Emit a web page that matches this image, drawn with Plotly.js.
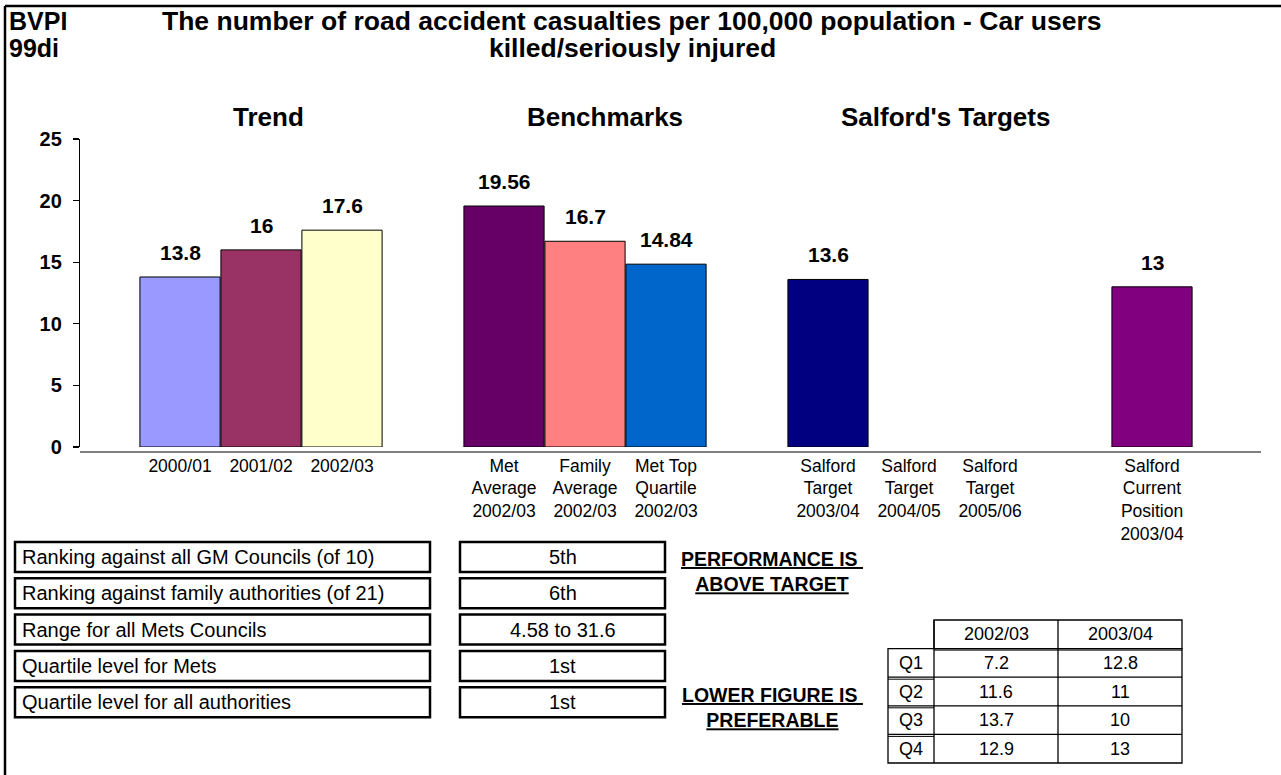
<!DOCTYPE html>
<html><head><meta charset="utf-8">
<script src="https://cdn.plot.ly/plotly-3.0.1.min.js"></script>
<style>html,body{margin:0;padding:0;background:#fff;}#chart{width:1281px;height:775px;}</style>
</head><body><div id="chart"></div>
<script>
// ---- data ----
const categories = ['2000/01','2001/02','2002/03','',
  'Met<br>Average<br>2002/03','Family<br>Average<br>2002/03','Met Top<br>Quartile<br>2002/03','',
  'Salford<br>Target<br>2003/04','Salford<br>Target<br>2004/05','Salford<br>Target<br>2005/06','',
  'Salford<br>Current<br>Position<br>2003/04'];
const values = [13.8,16,17.6,null,19.56,16.7,14.84,null,13.6,null,null,null,13];
const barColors = ['#9999FF','#993366','#FFFFCC','rgba(0,0,0,0)','#660066','#FF8080','#0066CC','rgba(0,0,0,0)','#000080','#000080','#000080','rgba(0,0,0,0)','#800080'];
const sectionTitles = ['Trend','Benchmarks',"Salford's Targets"];
const yTicks = [0,5,10,15,20,25];
const titleLines = ['The number of road accident casualties per 100,000 population - Car users','killed/seriously injured'];
const codeLines = ['BVPI','99di'];

const infoLabels = ['Ranking against all GM Councils (of 10)','Ranking against family authorities (of 21)','Range for all Mets Councils','Quartile level for Mets','Quartile level for all authorities'];
const infoValues = ['5th','6th','4.58 to 31.6','1st','1st'];

const tableCols = ['2002/03','2003/04'];
const quartileRows = ['Q1','Q2','Q3','Q4'];
const q2002 = [7.2,11.6,13.7,12.9];
const q2003 = [12.8,11,10,13];

// ---- geometry helpers (pixels -> paper) ----
const W=1281,H=775,L=80,R=1261,T=139,B=447;
const X = px => (px-L)/(R-L);
const Y = py => (B-py)/(B-T);
const FONT = 'Liberation Sans, Arial, Helvetica, sans-serif';
const idx = categories.map((c,i)=>i);
const sectionPx = [268,605,945];

const trace = {
  type:'bar', x: idx, y: values,
  marker:{color: barColors, line:{color:'#000', width:1}},
  width: 0.99, hoverinfo:'skip'
};

const annotations = [];
const shapes = [];
const P = (o)=>Object.assign({xref:'paper', yref:'paper', showarrow:false, xanchor:'center', yanchor:'middle'}, o);

// value labels
values.forEach((v,i)=>{
  if(v===null) return;
  annotations.push({x:i, y:v, xref:'x', yref:'y', text:'<b>'+v+'</b>', showarrow:false,
    yanchor:'bottom', yshift:11, font:{family:FONT,size:21,color:'#000'}});
});
// section titles
sectionTitles.forEach((t,k)=>{
  annotations.push(P({x:X(sectionPx[k]), y:Y(117), text:'<b>'+t+'</b>', font:{family:FONT,size:26,color:'#000'}}));
});
// titles
codeLines.forEach((t,k)=>{
  annotations.push(P({x:X(7), y:Y(21+k*27), xanchor:'left', text:'<b>'+t+'</b>', font:{family:FONT,size:25,color:'#000'}}));
});
titleLines.forEach((t,k)=>{
  annotations.push(P({x:X(632), y:Y(21+k*27), text:'<b>'+t+'</b>', font:{family:FONT,size:26.5,color:'#000'}}));
});

// frame
shapes.push({type:'line', xref:'paper', yref:'paper', x0:X(5), x1:X(1281), y0:Y(6), y1:Y(6), line:{color:'#000', width:2.5}});
shapes.push({type:'line', xref:'paper', yref:'paper', x0:X(5), x1:X(5), y0:Y(6), y1:Y(775), line:{color:'#000', width:2.5}});
// category axis line
shapes.push({type:'line', xref:'paper', yref:'paper', x0:0, x1:1, y0:Y(452), y1:Y(452), line:{color:'#000', width:1.2}});

// info boxes
infoLabels.forEach((lab,i)=>{
  const yc = 557 + i*36.3, top = yc-15, bot = yc+15;
  shapes.push({type:'rect', xref:'paper', yref:'paper', x0:X(15), x1:X(430), y0:Y(bot), y1:Y(top), line:{color:'#000', width:2.5}});
  shapes.push({type:'rect', xref:'paper', yref:'paper', x0:X(460), x1:X(665), y0:Y(bot), y1:Y(top), line:{color:'#000', width:2.5}});
  annotations.push(P({x:X(20), y:Y(yc), xanchor:'left', text:lab, font:{family:FONT,size:20,color:'#000'}}));
  annotations.push(P({x:X(562.5), y:Y(yc), text:infoValues[i], font:{family:FONT,size:20,color:'#000'}}));
});

// notes
annotations.push(P({x:X(772), y:Y(571), align:'center',
  text:'<b><u>PERFORMANCE IS </u></b><br><b><u>ABOVE TARGET</u></b>', font:{family:FONT,size:19.5,color:'#000'}}));
annotations.push(P({x:X(772), y:Y(707), align:'center',
  text:'<b><u>LOWER FIGURE IS </u></b><br><b><u>PREFERABLE</u></b>', font:{family:FONT,size:19.5,color:'#000'}}));

// quartile table
const cx = [888,934,1058,1182];
const ry0 = 620, rh = 28.6;
const ry = [0,1,2,3,4,5].map(k=>ry0+k*rh);
const ln = {color:'#000', width:1.3};
shapes.push({type:'rect', xref:'paper', yref:'paper', x0:X(cx[1]), x1:X(cx[3]), y0:Y(ry[1]), y1:Y(ry[0]), line:ln});
shapes.push({type:'rect', xref:'paper', yref:'paper', x0:X(cx[0]), x1:X(cx[3]), y0:Y(ry[5]), y1:Y(ry[1]), line:ln});
shapes.push({type:'line', xref:'paper', yref:'paper', x0:X(cx[1]), x1:X(cx[1]), y0:Y(ry[5]), y1:Y(ry[0]), line:ln});
shapes.push({type:'line', xref:'paper', yref:'paper', x0:X(cx[2]), x1:X(cx[2]), y0:Y(ry[5]), y1:Y(ry[0]), line:ln});
for(let k=2;k<=4;k++){
  shapes.push({type:'line', xref:'paper', yref:'paper', x0:X(cx[0]), x1:X(cx[3]), y0:Y(ry[k]), y1:Y(ry[k]), line:ln});
  shapes.push({type:'line', xref:'paper', yref:'paper', x0:X(cx[0]), x1:X(cx[1]), y0:Y(ry[k]+2), y1:Y(ry[k]+2), line:{color:'#000',width:1}});
}
shapes.push({type:'line', xref:'paper', yref:'paper', x0:X(cx[1]), x1:X(cx[3]), y0:Y(ry[1]+1.5), y1:Y(ry[1]+1.5), line:{color:'#000',width:1}});
tableCols.forEach((c,j)=>{
  annotations.push(P({x:X((cx[j+1]+cx[j+2])/2), y:Y((ry[0]+ry[1])/2), text:c, font:{family:FONT,size:18,color:'#000'}}));
});
quartileRows.forEach((q,k)=>{
  const yc = Y((ry[k+1]+ry[k+2])/2);
  annotations.push(P({x:X((cx[0]+cx[1])/2), y:yc, text:q, font:{family:FONT,size:18,color:'#000'}}));
  annotations.push(P({x:X((cx[1]+cx[2])/2), y:yc, text:String(q2002[k]), font:{family:FONT,size:18,color:'#000'}}));
  annotations.push(P({x:X((cx[2]+cx[3])/2), y:yc, text:String(q2003[k]), font:{family:FONT,size:18,color:'#000'}}));
});

const layout = {
  width:W, height:H, autosize:false,
  margin:{l:L, r:W-R, t:T, b:H-B, pad:0},
  paper_bgcolor:'#fff', plot_bgcolor:'rgba(0,0,0,0)',
  showlegend:false, bargap:0,
  xaxis:{range:[-100/81, (R-180)/81], tickmode:'array', tickvals:idx, ticktext:categories,
    showgrid:false, zeroline:false, showline:false, ticks:'', ticklabelstandoff:6,
    tickfont:{family:FONT, size:17.5, color:'#000'}, fixedrange:true},
  yaxis:{range:[0,25], tickmode:'array', tickvals:yTicks, showgrid:false, zeroline:false,
    showline:true, linecolor:'#000', linewidth:1.2, ticks:'outside', ticklen:6, tickwidth:1.2, tickcolor:'#000',
    ticklabelstandoff:7, tickfont:{family:FONT, size:20, color:'#000', weight:'bold'}, fixedrange:true},
  annotations: annotations,
  shapes: shapes
};
Plotly.newPlot('chart', [trace], layout, {displayModeBar:false, staticPlot:true});
</script></body></html>
